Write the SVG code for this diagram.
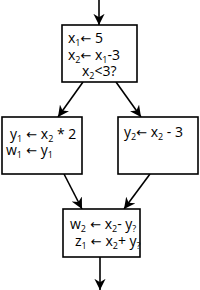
<svg xmlns="http://www.w3.org/2000/svg" width="200" height="290" viewBox="0 0 200 290">
<style>
.box{fill:#fff;stroke:#000;stroke-width:1.6}
.t{font-family:"Open Sans","Liberation Sans",sans-serif;font-size:14px;fill:#000}
.s{font-size:9px}
.a{font-family:"DejaVu Sans",sans-serif;font-size:13px}
.e{stroke:#000;stroke-width:1.6;fill:none;marker-end:url(#ah)}
</style>
<defs>
<marker id="ah" viewBox="0 0 10 10" refX="10" refY="5" markerWidth="7" markerHeight="7" markerUnits="strokeWidth" orient="auto">
<path d="M0,0 L10,5 L0,10 L3,5 Z" fill="#000"/>
</marker>
</defs>
<rect width="200" height="290" fill="#fff"/>
<g id="connectors">
<line class="e" x1="99" y1="0" x2="99" y2="25"/>
<line class="e" x1="83" y1="82" x2="58" y2="117"/>
<line class="e" x1="116" y1="82" x2="141" y2="117"/>
<line class="e" x1="64" y1="174" x2="82" y2="209"/>
<line class="e" x1="150" y1="174" x2="124" y2="209"/>
<line class="e" x1="100" y1="257" x2="100" y2="290"/>
</g>
<g id="n1">
<rect class="box" x="62" y="25" width="75" height="57"/>
<text class="t" x="68" y="43">x<tspan class="s" dy="3">1</tspan><tspan class="a" dy="-3">←</tspan> 5</text>
<text class="t" x="68" y="60">x<tspan class="s" dy="3">2</tspan><tspan class="a" dy="-3">←</tspan> x<tspan class="s" dy="3">1</tspan><tspan dy="-3">-3</tspan></text>
<text class="t" x="82" y="76">x<tspan class="s" dy="3">2</tspan><tspan dy="-3">&lt;3?</tspan></text>
</g>
<g id="n2">
<rect class="box" x="2" y="117" width="80" height="57"/>
<text class="t" x="10" y="139">y<tspan class="s" dy="3">1</tspan><tspan class="a" dy="-3"> ←</tspan> x<tspan class="s" dy="3">2</tspan><tspan dy="-3"> * 2</tspan></text>
<text class="t" x="6" y="155">w<tspan class="s" dy="3">1</tspan><tspan class="a" dy="-3"> ←</tspan> y<tspan class="s" dy="3">1</tspan></text>
</g>
<g id="n3">
<rect class="box" x="118" y="117" width="80" height="57"/>
<text class="t" x="124" y="137">y<tspan class="s" dy="3">2</tspan><tspan class="a" dy="-3">←</tspan> x<tspan class="s" dy="3">2</tspan><tspan dy="-3"> - 3</tspan></text>
</g>
<g id="n4">
<rect class="box" x="63" y="209" width="77" height="48"/>
<text class="t" x="70" y="229">w<tspan class="s" dy="3">2</tspan><tspan class="a" dy="-3"> ←</tspan> x<tspan class="s" dy="3">2</tspan><tspan dy="-3">- y</tspan><tspan class="s" dy="3">?</tspan></text>
<text class="t" x="75" y="246">z<tspan class="s" dy="3">1</tspan><tspan class="a" dy="-3"> ←</tspan> x<tspan class="s" dy="3">2</tspan><tspan dy="-3">+ y</tspan><tspan class="s" dy="3">?</tspan></text>
</g>
</svg>
